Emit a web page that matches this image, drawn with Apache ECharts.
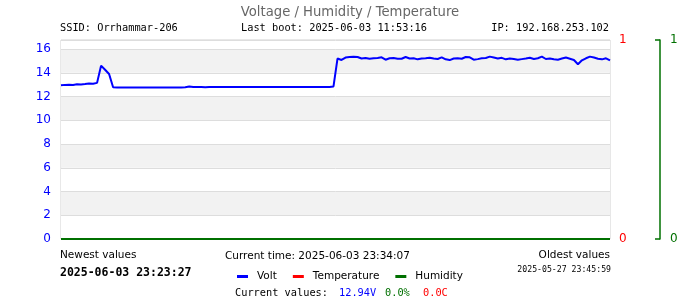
<!DOCTYPE html>
<html>
<head>
<meta charset="utf-8">
<script src="https://cdn.jsdelivr.net/npm/echarts@6/dist/echarts.min.js"></script>
<style>html,body{margin:0;padding:0;background:#fff;}#c{width:700px;height:300px;}</style>
</head>
<body>
<div id="c"></div>
<script>
// Voltage samples, newest (left) to oldest (right)
const volt = [
  12.94, 12.98, 13.00, 12.97, 13.03, 13.02, 13.05, 13.10, 13.08, 13.15, 14.60, 14.25, 13.90, 12.78,
  12.76, 12.76, 12.75, 12.76, 12.76, 12.76, 12.75, 12.76, 12.76, 12.76, 12.76, 12.75, 12.76, 12.76, 12.76, 12.76, 12.76, 12.78,
  12.84, 12.80, 12.80, 12.80, 12.79, 12.80, 12.80, 12.80, 12.80, 12.80, 12.80, 12.80, 12.80, 12.80, 12.80, 12.80, 12.80, 12.80,
  12.80, 12.80, 12.80, 12.80, 12.80, 12.80, 12.80, 12.80, 12.80, 12.80, 12.80, 12.80, 12.80, 12.80, 12.80, 12.80, 12.80, 12.80,
  12.85, 15.20,
  15.08, 15.28, 15.33, 15.35, 15.33, 15.20, 15.25, 15.18, 15.22, 15.25, 15.30, 15.10, 15.22, 15.25, 15.18, 15.18, 15.33,
  15.20, 15.22, 15.13, 15.20, 15.22, 15.27, 15.20, 15.16, 15.30, 15.13, 15.07, 15.20, 15.22, 15.18, 15.33, 15.30, 15.10,
  15.15, 15.22, 15.25, 15.36, 15.28, 15.20, 15.26, 15.13, 15.20, 15.16, 15.10, 15.15, 15.20, 15.26, 15.16, 15.22, 15.36,
  15.16, 15.20, 15.13, 15.10, 15.20, 15.28, 15.18, 15.08, 14.72, 15.05, 15.22, 15.36, 15.28, 15.18, 15.13, 15.22, 15.05
];
const temperature = [
  0,0,0,0,0,0,0,0,0,0,0,0,0,0,0,0,0,0,0,0,0,0,0,0,0,0,0,0,0,0,0,0,0,0,0,0,0,0,0,0,0,0,0,0,0,0,
  0,0,0,0,0,0,0,0,0,0,0,0,0,0,0,0,0,0,0,0,0,0,0,0,0,0,0,0,0,0,0,0,0,0,0,0,0,0,0,0,0,0,0,0,0,0,
  0,0,0,0,0,0,0,0,0,0,0,0,0,0,0,0,0,0,0,0,0,0,0,0,0,0,0,0,0,0,0,0,0,0,0,0,0,0,0,0,0,0,0,0,0,0
];
const humidity = [
  0,0,0,0,0,0,0,0,0,0,0,0,0,0,0,0,0,0,0,0,0,0,0,0,0,0,0,0,0,0,0,0,0,0,0,0,0,0,0,0,0,0,0,0,0,0,
  0,0,0,0,0,0,0,0,0,0,0,0,0,0,0,0,0,0,0,0,0,0,0,0,0,0,0,0,0,0,0,0,0,0,0,0,0,0,0,0,0,0,0,0,0,0,
  0,0,0,0,0,0,0,0,0,0,0,0,0,0,0,0,0,0,0,0,0,0,0,0,0,0,0,0,0,0,0,0,0,0,0,0,0,0,0,0,0,0,0,0,0,0
];
const seriesNames = ['Volt', 'Temperature', 'Humidity'];
const voltTicks = [0, 2, 4, 6, 8, 10, 12, 14, 16];
const voltMax = 16.76;
const titleText = 'Voltage / Humidity / Temperature';
const ssidText = 'SSID: Orrhammar-206';
const bootText = 'Last boot: 2025-06-03 11:53:16';
const ipText = 'IP: 192.168.253.102';
const newestLabel = 'Newest values';
const newestTime = '2025-06-03 23:23:27';
const currentTime = 'Current time: 2025-06-03 23:34:07';
const oldestLabel = 'Oldest values';
const oldestTime = '2025-05-27 23:45:59';
const currentLabel = 'Current values:';
const currentVolt = '12.94V';
const currentHum = '0.0%';
const currentTemp = '0.0C';

const xCats = volt.map((_, i) => i);
const SANS = 'DejaVu Sans';
const MONO = 'DejaVu Sans Mono';

const chart = echarts.init(document.getElementById('c'), null, {renderer: 'canvas'});
chart.setOption({
  animation: false,
  title: {
    text: titleText, left: 'center', top: 1,
    textStyle: {fontFamily: SANS, fontSize: 13.2, fontWeight: 'normal', color: '#666'}
  },
  grid: {left: 61, right: 90, top: 40, bottom: 61, show: true, borderColor: '#d0d0d0', borderWidth: 1, backgroundColor: 'transparent'},
  legend: {
    left: 237, top: 271, padding: 0, itemWidth: 11, itemHeight: 3, itemGap: 16, icon: 'rect',
    textStyle: {fontFamily: SANS, fontSize: 10.5, color: '#000', padding: [0, 0, 0, 4]},
    data: seriesNames
  },
  xAxis: {
    type: 'category', data: xCats, boundaryGap: false,
    axisLine: {show: false}, axisTick: {show: false}, axisLabel: {show: false}, splitLine: {show: false}
  },
  yAxis: [
    {
      type: 'value', min: 0, max: voltMax, interval: 2, position: 'left',
      axisLine: {show: false}, axisTick: {show: false},
      axisLabel: {color: '#0000ff', fontFamily: SANS, fontSize: 12, margin: 10, showMaxLabel: false,
        formatter: v => voltTicks.includes(v) ? String(v) : ''},
      splitLine: {show: true, lineStyle: {color: '#dddddd', width: 1}},
      splitArea: {show: true, areaStyle: {color: ['#ffffff', '#f2f2f2']}}
    },
    {
      type: 'value', min: 0, max: 1, interval: 1, position: 'right', offset: 0,
      axisLine: {show: false}, axisTick: {show: false}, splitLine: {show: false},
      axisLabel: {color: '#ff0000', fontFamily: SANS, fontSize: 12, margin: 9}
    },
    {
      type: 'value', min: 0, max: 1, interval: 1, position: 'right', offset: 50,
      axisLine: {show: true, lineStyle: {color: '#007000', width: 1.5}},
      axisTick: {show: true, inside: true, length: 5, lineStyle: {color: '#007000', width: 1.5}},
      splitLine: {show: false},
      axisLabel: {color: '#007000', fontFamily: SANS, fontSize: 12, margin: 10}
    }
  ],
  series: [
    {name: seriesNames[0], type: 'line', yAxisIndex: 0, data: volt, showSymbol: false, color: '#0000ff',
      lineStyle: {width: 2, color: '#0000ff'}, z: 3},
    {name: seriesNames[1], type: 'line', yAxisIndex: 1, data: temperature, showSymbol: false, color: '#ff0000',
      lineStyle: {width: 2, color: '#ff0000'}, z: 4},
    {name: seriesNames[2], type: 'line', yAxisIndex: 2, data: humidity, showSymbol: false, color: '#007000',
      lineStyle: {width: 2, color: '#007000'}, z: 5}
  ],
  graphic: [
    {type: 'text', left: 60, top: 23, style: {text: ssidText, font: '10.3px "' + MONO + '"', fill: '#000'}},
    {type: 'text', left: 241, top: 23, style: {text: bootText, font: '10.3px "' + MONO + '"', fill: '#000'}},
    {type: 'text', right: 91, top: 23, style: {text: ipText, font: '10.3px "' + MONO + '"', fill: '#000'}},
    {type: 'text', left: 60, top: 250, style: {text: newestLabel, font: '10.5px "' + SANS + '"', fill: '#000'}},
    {type: 'text', left: 60, top: 267, style: {text: newestTime, font: 'bold 11.5px "' + MONO + '"', fill: '#000'}},
    {type: 'text', left: 225, top: 251, style: {text: currentTime, font: '10.5px "' + SANS + '"', fill: '#000'}},
    {type: 'text', right: 90, top: 250, style: {text: oldestLabel, font: '10.5px "' + SANS + '"', fill: '#000'}},
    {type: 'text', right: 89, top: 266, style: {text: oldestTime, font: '8.2px "' + MONO + '"', fill: '#000'}},
    {type: 'text', left: 235, top: 288, style: {text: currentLabel, font: '10.3px "' + MONO + '"', fill: '#000'}},
    {type: 'text', left: 339, top: 288, style: {text: currentVolt, font: '10.3px "' + MONO + '"', fill: '#0000ff'}},
    {type: 'text', left: 385, top: 288, style: {text: currentHum, font: '10.3px "' + MONO + '"', fill: '#007000'}},
    {type: 'text', left: 423, top: 288, style: {text: currentTemp, font: '10.3px "' + MONO + '"', fill: '#ff0000'}}
  ]
});
</script>
</body>
</html>
